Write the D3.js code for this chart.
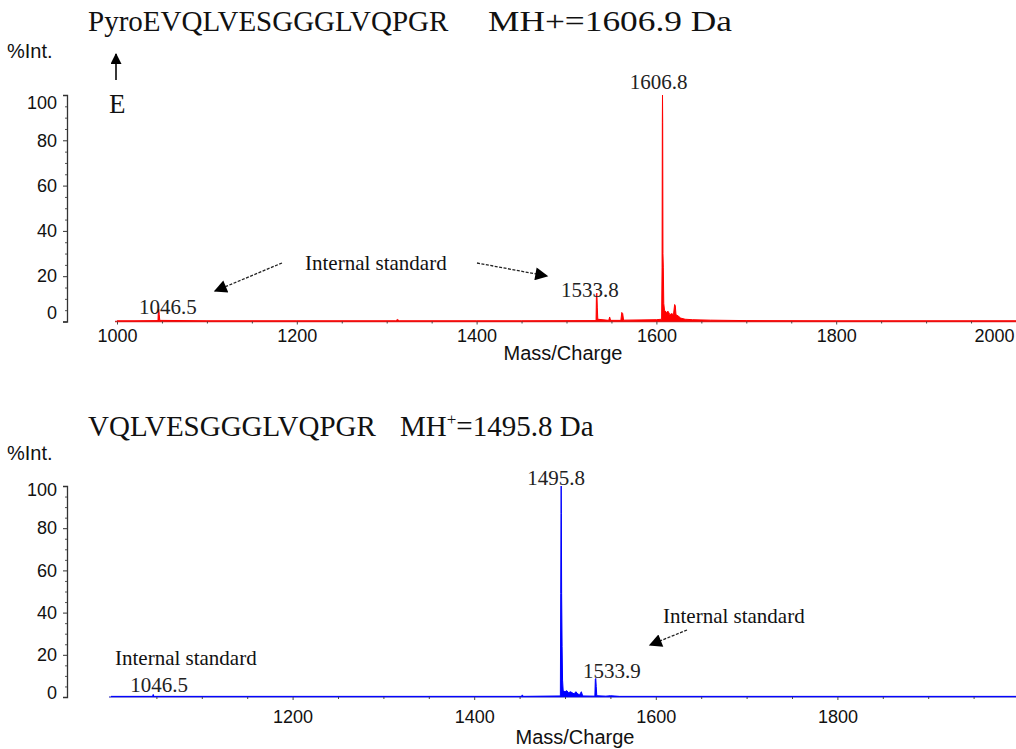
<!DOCTYPE html>
<html>
<head>
<meta charset="utf-8">
<script src="https://cdn.jsdelivr.net/npm/d3@7"></script>
<style>
  body { margin: 0; background: #fff; }
  svg { display: block; }
</style>
</head>
<body>
<svg id="chart" width="1016" height="749"></svg>
<script>
// ---- axis ticks ----
const xTicksTop = [1000, 1200, 1400, 1600, 1800, 2000];
const xTicksBottom = [1200, 1400, 1600, 1800];
const yTicks = [0, 20, 40, 60, 80, 100];

// ---- spectrum 1: PyroEVQLVESGGGLVQPGR (m/z, % intensity) ----
const topMz = [1000, 1020, 1045.6, 1046.0, 1046.5, 1047.0, 1047.6, 1100, 1200, 1310, 1312, 1314, 1400,
  1450, 1532.9, 1533.3, 1533.8, 1534.3, 1534.8, 1547, 1548, 1549, 1560.5, 1561.5, 1562.5, 1563.5,
  1600, 1605.8, 1606.3, 1606.6, 1606.8, 1607.0, 1607.3, 1607.7, 1608.2, 1609, 1611, 1613, 1615, 1617,
  1619, 1620.3, 1621, 1621.8, 1624, 1627, 1632, 1640, 1660, 1700, 1800, 1900, 2000];
const topInt = [0.3, 0.3, 0.4, 5.2, 5.5, 3, 0.5, 0.3, 0.3, 0.3, 0.9, 0.3, 0.3,
  0.3, 0.4, 12, 12.5, 6, 1, 0.5, 2, 0.5, 0.5, 4, 3.5, 0.6,
  0.8, 1, 24, 88, 100, 88, 30, 24, 8, 5, 4, 4.5, 3, 3.5,
  3, 7.5, 7, 3, 2.5, 1.5, 1, 0.8, 0.6, 0.4, 0.3, 0.3, 0.3];
const topPeaks = [1046.5, 1533.8, 1606.8];

// ---- spectrum 2: VQLVESGGGLVQPGR (m/z, % intensity) ----
const bottomMz = [1000, 1045.8, 1046.5, 1047.2, 1200, 1400, 1452, 1453, 1454, 1494.9, 1495.3, 1495.6,
  1495.8, 1496.0, 1496.3, 1496.8, 1497.3, 1498, 1500, 1502, 1504, 1506, 1508, 1510, 1512, 1514, 1516,
  1518, 1519.5, 1532.9, 1533.4, 1533.9, 1534.4, 1535, 1545, 1550, 1560, 1600, 1800, 2000];
const bottomInt = [0.3, 0.3, 1.2, 0.3, 0.3, 0.3, 0.3, 1, 0.3, 0.5, 49, 87,
  100, 87, 49, 24, 8, 3, 2.5, 3, 2, 2.5, 2, 1.5, 2.5, 1.5, 1,
  2.5, 0.5, 0.4, 8.5, 8.8, 5, 0.6, 0.4, 0.6, 0.3, 0.3, 0.3, 0.3];
const bottomPeaks = [1046.5, 1495.8, 1533.9];

const svg = d3.select("#chart");
const SANS = "'Liberation Sans', Arial, sans-serif";
const SERIF = "'Liberation Serif', 'Times New Roman', serif";

// panel layout
const panels = [
  {
    mz: topMz, inten: topInt, peaks: topPeaks, xTicks: xTicksTop,
    xRange: [117, 1016], yRange: [321.5, 95], xLabelY: 20, axisLabelY: 360, axisLabelX: 563,
    color: "#ff0000", baseColor: "#c62a2a",
    endLabelShift: { 100: 8, 0: -9 },
    labelOffsets: { 1046.5: [9, 5], 1533.8: [-7, 4], 1606.8: [-4, -6] }
  },
  {
    mz: bottomMz, inten: bottomInt, peaks: bottomPeaks, xTicks: xTicksBottom,
    xRange: [111, 1019], yRange: [697, 486], xLabelY: 26, axisLabelY: 744, axisLabelX: 575,
    color: "#0000ff", baseColor: "#6060d0",
    endLabelShift: { 100: 4, 0: -4 },
    labelOffsets: { 1046.5: [6, -2], 1495.8: [-5, -1], 1533.9: [16, 0] }
  }
];

panels.forEach(p => {
  const x = d3.scaleLinear().domain([1000, 2000]).range(p.xRange);
  const y = d3.scaleLinear().domain([0, 100]).range(p.yRange);
  const pts = p.mz.map((m, i) => [m, p.inten[i]]);
  const g = svg.append("g");

  // baseline
  g.append("line")
    .attr("x1", x(1000) - 2).attr("x2", 1016)
    .attr("y1", y(0)).attr("y2", y(0))
    .attr("stroke", p.baseColor).attr("stroke-width", 1.6);

  // spectrum trace
  g.append("path").datum(pts)
    .attr("d", d3.area().x(d => x(d[0])).y0(y(0)).y1(d => y(d[1])))
    .attr("fill", p.color);
  g.append("path").datum(pts)
    .attr("d", d3.line().x(d => x(d[0])).y(d => y(d[1])))
    .attr("fill", "none").attr("stroke", p.color).attr("stroke-width", 1);

  // x axis: minor ticks every 50
  const minor = d3.range(1050, 2000, 50).filter(v => p.xTicks.indexOf(v) < 0);
  const xMinor = g.append("g").attr("transform", `translate(0,${y(0)})`)
    .call(d3.axisBottom(x).tickValues(minor).tickSize(2).tickFormat(""));
  xMinor.select(".domain").remove();
  xMinor.selectAll("line").attr("stroke", "#444");

  const xAxis = g.append("g").attr("transform", `translate(0,${y(0)})`)
    .call(d3.axisBottom(x).tickValues(p.xTicks).tickSize(3).tickFormat(d3.format("d")));
  xAxis.select(".domain").remove();
  xAxis.selectAll("line").attr("stroke", "#444");
  xAxis.selectAll("text")
    .attr("y", p.xLabelY).attr("dy", 0)
    .attr("font-family", SANS).attr("font-size", 18).attr("fill", "#111");
  // keep the last label inside the frame
  xAxis.selectAll(".tick").filter(d => d === 2000).select("text")
    .attr("text-anchor", "end").attr("x", -2);

  g.append("text")
    .attr("x", p.axisLabelX).attr("y", p.axisLabelY)
    .attr("text-anchor", "middle")
    .attr("font-family", SANS).attr("font-size", 20).attr("fill", "#111")
    .text("Mass/Charge");

  // y axis with bracket ends
  const yMinor = g.append("g").attr("transform", "translate(67,0)")
    .call(d3.axisLeft(y).tickValues(d3.range(5, 100, 5).filter(v => v % 20)).tickSize(2).tickFormat(""));
  yMinor.select(".domain").remove();
  yMinor.selectAll("line").attr("stroke", "#555");

  const yAxis = g.append("g").attr("transform", "translate(67,0)")
    .call(d3.axisLeft(y).tickValues(yTicks).tickSize(4).tickSizeOuter(4).tickPadding(6));
  yAxis.select(".domain").attr("stroke", "#333").attr("stroke-width", 1.3);
  yAxis.selectAll("line").attr("stroke", "#333");
  yAxis.selectAll("text")
    .attr("font-family", SANS).attr("font-size", 18).attr("fill", "#111")
    .attr("dy", d => (0.32 * 18 + (p.endLabelShift[d] || 0)) + "px");

  // peak labels
  p.peaks.forEach(m => {
    const i = p.mz.indexOf(m);
    const off = p.labelOffsets[m];
    g.append("text")
      .attr("x", x(m) + off[0]).attr("y", y(p.inten[i]) + off[1])
      .attr("text-anchor", "middle")
      .attr("font-family", SERIF).attr("font-size", 21).attr("fill", "#222")
      .text(d3.format(".1f")(m));
  });
});

// ---- titles and annotations ----
const serifText = (x, y, size, txt) => svg.append("text")
  .attr("x", x).attr("y", y).attr("font-family", SERIF).attr("font-size", size)
  .attr("fill", "#111").text(txt);

serifText(88, 31, 29, "PyroEVQLVESGGGLVQPGR");
serifText(488, 31, 29, "MH+=1606.9 Da")
  .attr("textLength", 244).attr("lengthAdjust", "spacingAndGlyphs");
serifText(109, 113, 27, "E");

const t2 = svg.append("text").attr("x", 88).attr("y", 436)
  .attr("font-family", SERIF).attr("font-size", 29).attr("fill", "#111");
t2.append("tspan").text("VQLVESGGGLVQPGR");
t2.append("tspan").attr("x", 400).text("MH");
t2.append("tspan").attr("font-size", 17).attr("dy", -11).text("+");
t2.append("tspan").attr("dy", 11).text("=1495.8 Da");

[58, 460].forEach(yy => svg.append("text")
  .attr("x", 7).attr("y", yy).attr("font-family", SANS).attr("font-size", 20)
  .attr("fill", "#111").text("%Int."));

// arrow markers
const defs = svg.append("defs");
defs.append("marker").attr("id", "head").attr("viewBox", "0 0 10 10")
  .attr("refX", 9).attr("refY", 5).attr("markerWidth", 13).attr("markerHeight", 11)
  .attr("markerUnits", "userSpaceOnUse").attr("orient", "auto")
  .append("path").attr("d", "M0,0L10,5L0,10Z").attr("fill", "#000");
defs.append("marker").attr("id", "headBig").attr("viewBox", "0 0 10 10")
  .attr("refX", 9).attr("refY", 5).attr("markerWidth", 19).attr("markerHeight", 13)
  .attr("markerUnits", "userSpaceOnUse").attr("orient", "auto")
  .append("path").attr("d", "M0,0L10,5L0,10Z").attr("fill", "#000");

const arrow = (x1, y1, x2, y2, dashed, head) => svg.append("line")
  .attr("x1", x1).attr("y1", y1).attr("x2", x2).attr("y2", y2)
  .attr("stroke", "#222").attr("stroke-width", dashed ? 1.3 : 1.8)
  .attr("stroke-dasharray", dashed ? "3,1.5" : null)
  .attr("marker-end", `url(#${head})`);

arrow(116, 80, 116, 54, false, "head");
arrow(282, 263, 215, 291, true, "headBig");
arrow(477, 263, 547, 276, true, "headBig");
arrow(687, 630, 650, 645, true, "headBig");

serifText(305, 270, 21, "Internal standard");
serifText(115, 665, 21, "Internal standard");
serifText(663, 623, 21, "Internal standard");
</script>
</body>
</html>
